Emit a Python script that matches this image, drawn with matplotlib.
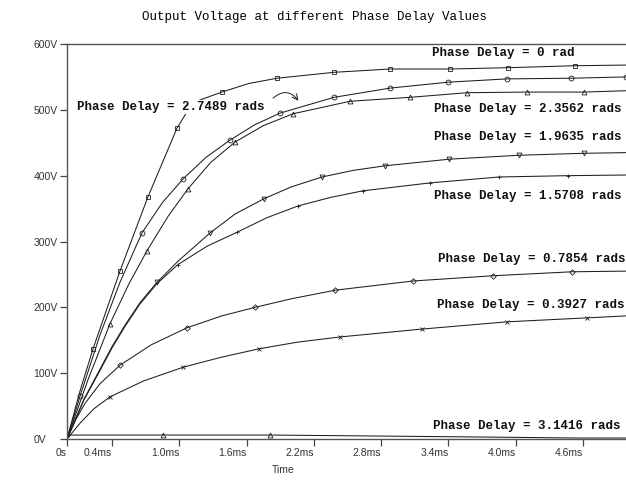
"""Output voltage vs time for several phase delay values (PSpice-style plot)."""
import matplotlib

matplotlib.use("Agg")
import matplotlib.pyplot as plt

# time in ms, voltage in V
t_0rad = [0, 0.116, 0.232, 0.472, 0.722, 0.980, 1.07, 1.185, 1.381, 1.62, 1.872, 2.380, 2.879, 3.414, 3.930, 4.528, 4.982]
v_0rad = [0, 73, 137, 255, 368, 472, 497, 515, 527, 540, 548, 557, 562, 562, 564, 567, 568]

t_27489 = [0, 0.116, 0.294, 0.472, 0.668, 0.85, 1.034, 1.24, 1.453, 1.67, 1.898, 2.380, 2.879, 3.396, 3.922, 4.492, 4.982]
v_27489 = [0, 65, 158, 238, 313, 359, 395, 428, 454, 477, 495, 519, 533, 542, 547, 548, 550]

t_23562 = [0, 0.187, 0.383, 0.55, 0.713, 0.90, 1.078, 1.28, 1.497, 1.75, 2.014, 2.522, 3.057, 3.565, 4.100, 4.608, 4.982]
v_23562 = [0, 90, 175, 235, 286, 338, 380, 420, 451, 476, 494, 513, 519, 526, 527, 527, 529]

t_19635 = [0, 0.15, 0.294, 0.40, 0.517, 0.65, 0.802, 0.989, 1.275, 1.50, 1.756, 2.0, 2.273, 2.55, 2.834, 3.405, 4.029, 4.608, 4.982]
v_19635 = [0, 60, 106, 140, 173, 207, 238, 270, 313, 342, 365, 383, 398, 408, 415, 425, 431, 434, 435]

t_15708 = [0, 0.15, 0.294, 0.40, 0.517, 0.65, 0.802, 0.989, 1.25, 1.515, 1.78, 2.059, 2.35, 2.638, 3.235, 3.850, 4.465, 4.982]
v_15708 = [0, 59, 104, 138, 171, 205, 236, 265, 293, 314, 336, 354, 367, 377, 389, 398, 400, 401]

t_07854 = [0, 0.08, 0.160, 0.294, 0.472, 0.75, 1.070, 1.38, 1.676, 2.0, 2.389, 3.084, 3.797, 4.501, 4.982]
v_07854 = [0, 30, 54, 84, 112, 143, 169, 187, 200, 213, 226, 240, 248, 254, 255]

t_03927 = [0, 0.116, 0.24, 0.383, 0.68, 1.034, 1.37, 1.711, 2.05, 2.433, 3.164, 3.922, 4.635, 4.982]
v_03927 = [0, 24, 46, 64, 88, 109, 124, 137, 147, 155, 167, 178, 184, 187]

t_31416 = [0, 0.03, 0.856, 1.809, 2.70, 3.71, 4.54, 4.982]
v_31416 = [0, 6, 6, 6, 4.6, 3, 1.5, 1.5]

x_ticks = [0, 0.4, 1.0, 1.6, 2.2, 2.8, 3.4, 4.0, 4.6]
x_tick_labels = ["0s", "0.4ms", "1.0ms", "1.6ms", "2.2ms", "2.8ms", "3.4ms", "4.0ms", "4.6ms"]
y_ticks = [0, 100, 200, 300, 400, 500, 600]
y_tick_labels = ["0V", "100V", "200V", "300V", "400V", "500V", "600V"]

W, H = 626, 480
fig = plt.figure(figsize=(W / 100, H / 100), dpi=100)
ax = fig.add_axes([67 / W, 1 - 439 / H, (W - 67) / W, (439 - 44) / H])

line_kw = dict(color="#1e1e1e", lw=0.75, markersize=3.5, fillstyle="none", markeredgewidth=0.6)
ax.plot(t_0rad, v_0rad, marker="s", markevery=[2, 3, 4, 5, 8, 10, 11, 12, 13, 14, 15], **line_kw)
ax.plot(t_27489, v_27489, marker="o", markevery=[1, 4, 6, 8, 10, 11, 12, 13, 14, 15, 16], **line_kw)
ax.plot(t_23562, v_23562, marker="^", markevery=[2, 4, 6, 8, 10, 11, 12, 13, 14, 15], **line_kw)
ax.plot(t_19635, v_19635, marker="v", markevery=[6, 8, 10, 12, 14, 15, 16, 17], **line_kw)
ax.plot(t_15708, v_15708, marker="+", markevery=[7, 9, 11, 13, 14, 15, 16], **line_kw)
ax.plot(t_07854, v_07854, marker="D", markevery=[4, 6, 8, 10, 11, 12, 13], **{**line_kw, "markersize": 2.8})
ax.plot(t_03927, v_03927, marker="x", markevery=[3, 5, 7, 9, 10, 11, 12], **line_kw)
ax.plot(t_31416, v_31416, marker="^", markevery=[2, 3], **line_kw)

ax.set_xlim(0, (W - 67) / 112.2)
ax.set_ylim(0, 600)
ax.set_xticks(x_ticks)
ax.set_xticklabels(x_tick_labels)
ax.set_yticks(y_ticks)
ax.set_yticklabels(y_tick_labels)
ax.tick_params(axis="both", direction="out", length=5, width=0.9, color="#444444",
               labelsize=7.5, labelcolor="#333333")
ax.tick_params(axis="y", pad=19)
ax.tick_params(axis="x", pad=1.5)
for lab in ax.get_yticklabels():
    lab.set_fontfamily("Liberation Sans")
    lab.set_ha("left")
for lab in ax.get_xticklabels():
    lab.set_fontfamily("Liberation Sans")
    lab.set_ha("right")
ax.spines["right"].set_visible(False)
for side in ("left", "top", "bottom"):
    ax.spines[side].set_color("#555555")
    ax.spines[side].set_linewidth(1.0)

fig.text(315 / W, 1 - 17 / H, "Output Voltage at different Phase Delay Values",
         family="Liberation Mono", fontsize=9, ha="center", va="center")
fig.text(283 / W, 1 - 470 / H, "Time", family="Liberation Sans", fontsize=7.5,
         color="#333333", ha="center", va="center")

labels = [
    ("Phase Delay = 0 rad", 432, 53),
    ("Phase Delay = 2.7489 rads", 77, 107),
    ("Phase Delay = 2.3562 rads", 434, 109),
    ("Phase Delay = 1.9635 rads", 434, 137),
    ("Phase Delay = 1.5708 rads", 434, 196),
    ("Phase Delay = 0.7854 rads", 438, 259),
    ("Phase Delay = 0.3927 rads", 437, 305),
    ("Phase Delay = 3.1416 rads", 433, 426),
]
for txt, px, py in labels:
    t = fig.text(px / W, 1 - py / H, txt, family="Liberation Mono", weight="bold",
                 fontsize=9, ha="left", va="center", color="#111111")
    if "2.7489" in txt:
        t.set_bbox(dict(facecolor="white", edgecolor="none", pad=0.5))

# curved pointer from the 2.7489 label to its trace
ax.annotate("", xy=(300 / W, 1 - 103 / H), xycoords="figure fraction",
            xytext=(271 / W, 1 - 100 / H), textcoords="figure fraction",
            arrowprops=dict(arrowstyle="->", color="#1e1e1e", lw=0.7,
                            connectionstyle="arc3,rad=-0.6"))

fig.savefig("out.png", dpi=100)
